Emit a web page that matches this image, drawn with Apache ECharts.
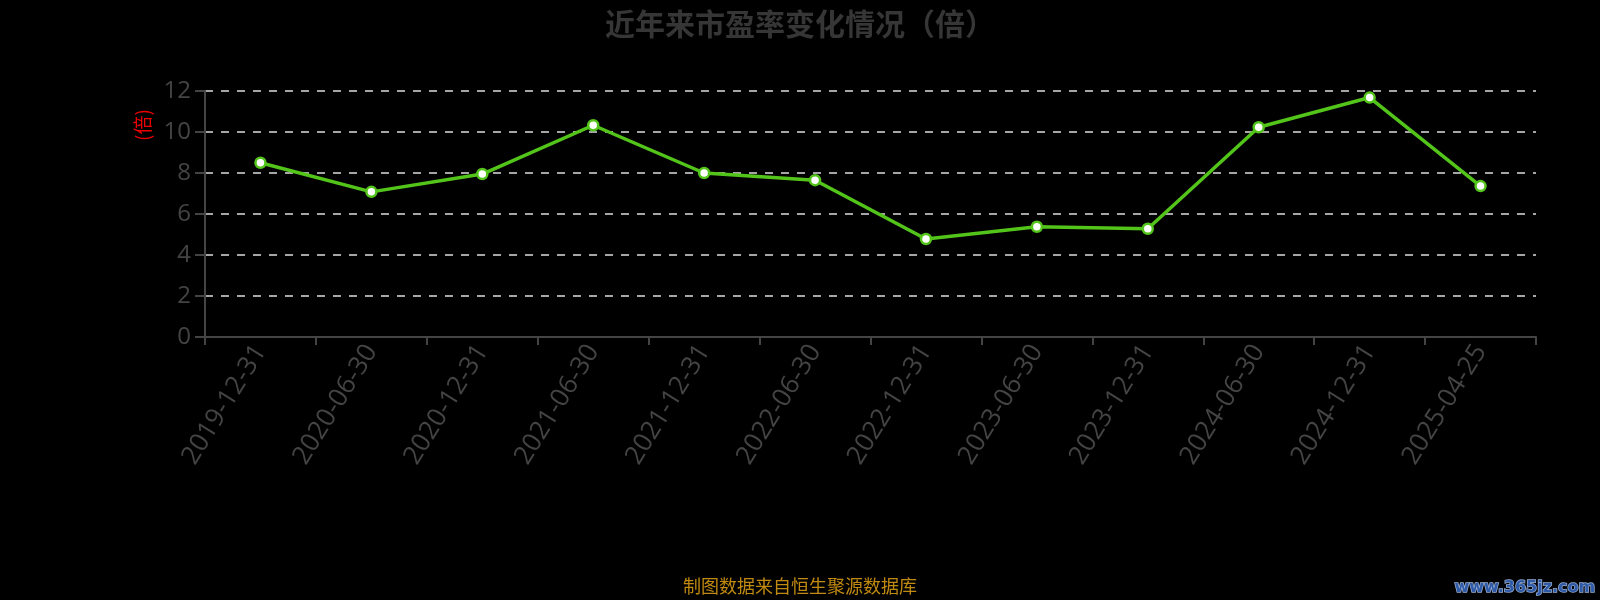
<!DOCTYPE html>
<html><head><meta charset="utf-8">
<script src="https://cdn.jsdelivr.net/npm/echarts@6/dist/echarts.min.js"></script>
<style>html,body{margin:0;padding:0;background:#000;}#c{width:1600px;height:600px;}</style>
</head><body><div id="c"></div>
<script>
const categories = ['2019-12-31','2020-06-30','2020-12-31','2021-06-30','2021-12-31','2022-06-30','2022-12-31','2023-06-30','2023-12-31','2024-06-30','2024-12-31','2025-04-25'];
const peValues = [8.5, 7.08, 7.95, 10.33, 8.0, 7.65, 4.78, 5.38, 5.28, 10.23, 11.68, 7.36];
const yTicks = [0, 2, 4, 6, 8, 10, 12];

const chart = echarts.init(document.getElementById('c'));
chart.setOption({
  backgroundColor: '#000',
  animation: false,
  title: {
    text: '近年来市盈率变化情况（倍）',
    left: 'center', top: 4,
    textStyle: { color: '#363636', fontSize: 30, fontWeight: 'bold', fontFamily: 'Noto Sans CJK SC' }
  },
  grid: { left: 205, right: 64, top: 91, bottom: 263 },
  xAxis: {
    type: 'category', data: categories, boundaryGap: true,
    axisLine: { lineStyle: { color: '#444', width: 2 } },
    axisTick: { show: true, length: 8, lineStyle: { color: '#444', width: 2 } },
    axisLabel: { color: '#444', fontSize: 26, rotate: 58, margin: 10, fontFamily: 'Open Sans', interval: 0 },
    splitLine: { show: false }
  },
  yAxis: {
    type: 'value', min: yTicks[0], max: yTicks[yTicks.length - 1], interval: 2,
    axisLine: { show: true, lineStyle: { color: '#444', width: 2 } },
    axisTick: { show: true, length: 10, lineStyle: { color: '#444', width: 2 } },
    axisLabel: { color: '#444', fontSize: 24, margin: 14, fontFamily: 'Open Sans' },
    splitLine: { show: true, lineStyle: { color: '#ddd', type: [8, 8], width: 1.5 } }
  },
  graphic: [
    { type: 'text', x: 143, y: 125, rotation: Math.PI / 2,
      style: { text: '(倍)', fill: '#e00', font: '19px "Noto Sans CJK SC"', align: 'center', verticalAlign: 'middle' } },
    { type: 'text', left: 'center', top: 577,
      style: { text: '制图数据来自恒生聚源数据库', fill: '#c08a10', font: '18px "Noto Sans CJK SC"' } },
    { type: 'text', right: 4, top: 579,
      style: { text: 'www.365jz.com', fill: '#2e5aa8', stroke: '#9aaed0', lineWidth: 1.5, font: 'bold 16px "DejaVu Sans"' } }
  ],
  series: [{
    type: 'line', data: peValues,
    symbol: 'circle', symbolSize: 10,
    lineStyle: { color: '#52c41a', width: 3.5 },
    itemStyle: { color: '#fff', borderColor: '#52c41a', borderWidth: 2.5 }
  }]
});
</script></body></html>
